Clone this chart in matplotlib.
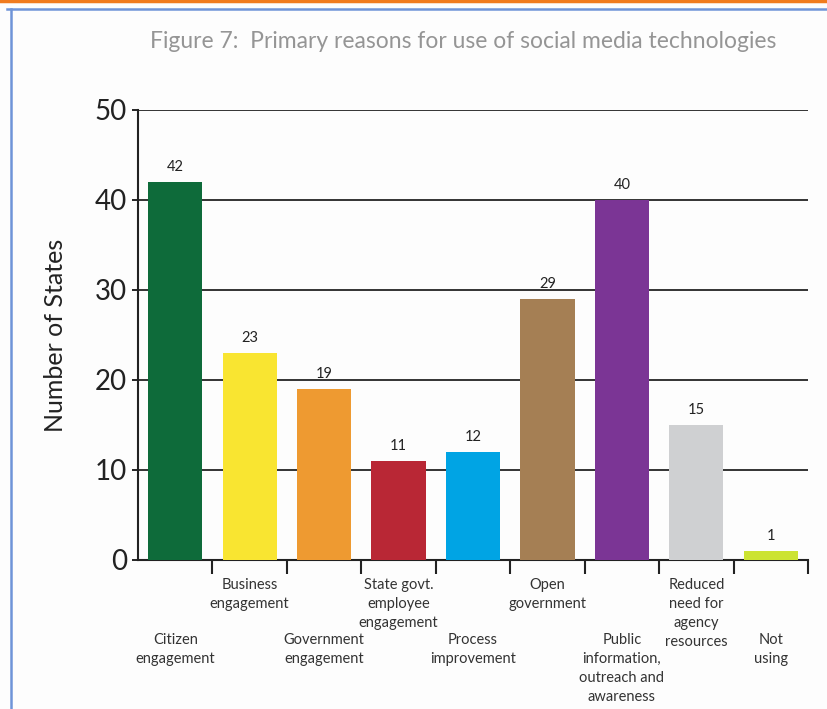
import matplotlib.pyplot as plt
from matplotlib.lines import Line2D

# reasons and number of states
reasons = ["Citizen\nengagement", "Business\nengagement", "Government\nengagement",
           "State govt.\nemployee\nengagement", "Process\nimprovement", "Open\ngovernment",
           "Public\ninformation,\noutreach and\nawareness", "Reduced\nneed for\nagency\nresources",
           "Not\nusing"]
states = [42, 23, 19, 11, 12, 29, 40, 15, 1]
colors = ["#0e6b3a", "#f9e531", "#ee9a31", "#b92735", "#00a4e4",
          "#a57f54", "#7b3595", "#cfd0d2", "#cce332"]
yticks = [0, 10, 20, 30, 40, 50]

plt.rcParams['font.family'] = ['Lato', 'DejaVu Sans']

fig = plt.figure(figsize=(8.27, 7.09), dpi=100)
fig.patch.set_facecolor("#fdfdfd")

# frame lines around the figure
fig.add_artist(Line2D([0, 1], [0.999, 0.999], transform=fig.transFigure, color="#f07b1e", lw=2.5))
fig.add_artist(Line2D([0.0085, 1], [0.987, 0.987], transform=fig.transFigure, color="#6f94d8", lw=1.8))
fig.add_artist(Line2D([0.0133, 0.0133], [0, 0.987], transform=fig.transFigure, color="#6f94d8", lw=1.8))

ax = fig.add_axes([0.1669, 0.2102, 0.8101, 0.6347])
ax.set_facecolor("#fdfdfd")

x = list(range(len(states)))
ax.bar(x, states, width=0.73, color=colors, zorder=3)
for i, v in enumerate(states):
    ax.text(i, v + 1.25, str(v), ha="center", va="baseline", fontsize=10.5, color="#222222")

ax.set_xlim(-0.5, len(states) - 0.5)
ax.set_ylim(0, 50)
ax.set_yticks(yticks)
ax.set_yticklabels([str(t) for t in yticks], fontsize=20, color="#222222")
ax.yaxis.grid(True, color="#111111", lw=1.2, zorder=0)
ax.tick_params(axis="y", length=4, width=1.2, pad=4)

# ticks at category boundaries
ax.set_xticks([i + 0.5 for i in range(len(states))])
ax.set_xticklabels([])
ax.tick_params(axis="x", length=10, width=1.5, direction="out", color="#222222")

for s in ["top", "right"]:
    ax.spines[s].set_visible(False)
for s in ["left", "bottom"]:
    ax.spines[s].set_linewidth(1.5)
    ax.spines[s].set_color("#222222")

# category labels, alternating rows
for i, lab in enumerate(reasons):
    yoff = -0.04 if i % 2 else -0.162
    ax.text(i, yoff, lab, ha="center", va="top", fontsize=10.5,
            color="#333333", linespacing=1.45, transform=ax.get_xaxis_transform())

ax.set_ylabel("Number of States", fontsize=18, color="#222222", labelpad=20)

fig.text(0.56, 0.941, "Figure 7:  Primary reasons for use of social media technologies",
         ha="center", va="center", fontsize=16.5, color="#959595")

fig.savefig("out.png", dpi=100, facecolor=fig.get_facecolor())
